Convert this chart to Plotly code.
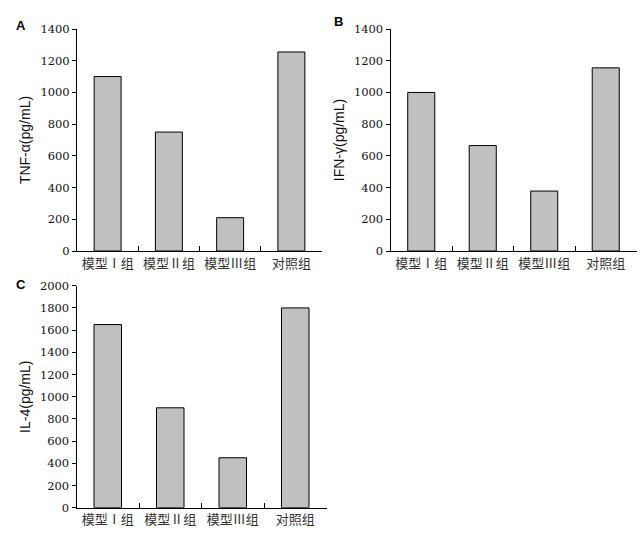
import plotly.graph_objects as go

categories = ["模型Ⅰ组", "模型Ⅱ组", "模型Ⅲ组", "对照组"]
tnf_alpha = [1100, 750, 210, 1255]
ifn_gamma = [1000, 665, 378, 1155]
il_4 = [1650, 900, 450, 1800]

panels = [
    ("A", tnf_alpha, "TNF-α(pg/mL)", 1400, "x", "y"),
    ("B", ifn_gamma, "IFN-γ(pg/mL)", 1400, "x2", "y2"),
    ("C", il_4, "IL-4(pg/mL)", 2000, "x3", "y3"),
]

W, H = 644, 536
domains = {
    "x": ([77 / W, 322 / W], [(H - 251) / H, (H - 29) / H]),
    "x2": ([390.5 / W, 636.5 / W], [(H - 251) / H, (H - 29) / H]),
    "x3": ([76.5 / W, 326.5 / W], [(H - 507.7) / H, (H - 285.7) / H]),
}

fig = go.Figure()
tick_font = dict(family="DejaVu Serif", size=11.5, color="#111")
cat_font = dict(family="Noto Sans CJK SC", size=13, color="#333")
title_font = dict(family="Liberation Sans", size=14, color="#111")

layout = {}
for label, vals, ytitle, ymax, xa, ya in panels:
    fig.add_trace(go.Bar(
        x=categories, y=vals, xaxis=xa, yaxis=ya, width=0.44,
        marker=dict(color="#c0c0c0", line=dict(color="black", width=1)),
        showlegend=False,
    ))
    xd, yd = domains[xa]
    xkey = "xaxis" if xa == "x" else "xaxis" + xa[1:]
    ykey = "yaxis" if ya == "y" else "yaxis" + ya[1:]
    layout[xkey] = dict(
        domain=xd, anchor=ya, type="category", range=[-0.5, 3.5],
        showline=True, linecolor="black", linewidth=1, automargin=False,
        ticks="inside", tickson="boundaries", ticklen=5, tickcolor="black",
        tickfont=cat_font, showgrid=False, zeroline=False, fixedrange=True,
    )
    layout[ykey] = dict(
        domain=yd, anchor=xa, range=[0, ymax], dtick=200, tick0=0,
        showline=True, linecolor="black", linewidth=1, automargin=False,
        ticks="outside", ticklen=4, tickcolor="black",
        tickfont=tick_font, showgrid=False, zeroline=False,
        title=dict(text=ytitle, font=title_font, standoff=6),
    )

fig.update_layout(
    width=W, height=H, margin=dict(l=0, r=0, t=0, b=0),
    paper_bgcolor="white", plot_bgcolor="white",
    bargap=0.56, **layout,
)

for txt, x, y in [("A", 21, 26), ("B", 338, 22), ("C", 21, 284)]:
    fig.add_annotation(
        text="<b>" + txt + "</b>", x=x / W, y=1 - y / H, xref="paper", yref="paper",
        showarrow=False, xanchor="center", yanchor="middle",
        font=dict(family="Liberation Sans", size=13, color="black"),
    )

fig.write_html("out.html")
